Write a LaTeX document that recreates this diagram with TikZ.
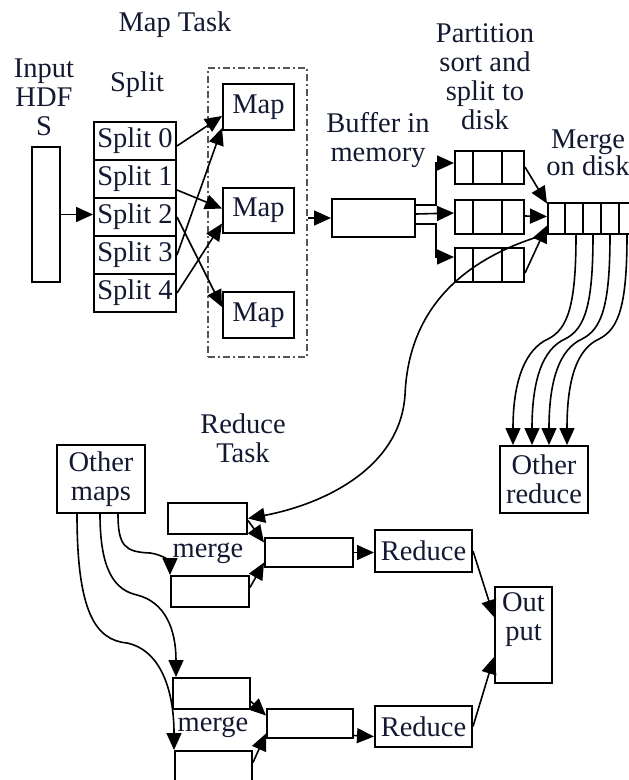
\documentclass[tikz,border=0pt]{standalone}
\usepackage{fontspec}
\setmainfont{Liberation Serif}
\usetikzlibrary{arrows.meta,calc}
\definecolor{txt}{RGB}{20,25,50}
\definecolor{frame}{RGB}{85,85,85}
\begin{document}
\begin{tikzpicture}[x=1pt,y=-1pt,
  every node/.style={font=\fontsize{28.5}{29}\selectfont, text=txt},
  box/.style={draw, line width=2pt, inner sep=0pt, align=center},
  lbl/.style={align=center, inner sep=0pt},
  arr/.style={line width=1.6pt, -{Triangle[length=17pt 0,width=15pt 0]}},
  divider/.style={line width=2pt},
]
\clip (0,0) rectangle (629,780);

% ---------- Map task ----------
\node[lbl] (maptask) at (175,25) {Map Task};
\node[lbl] (inplbl) at (44,97) {Input\\HDF\\S};
\node[box, minimum width=28pt, minimum height=135pt] (inp) at (46,214.5) {};
\node[lbl] (splitlbl) at (137,85) {Split};
\foreach \i/\y in {0/141,1/179,2/217,3/255,4/293}
  \node[box, minimum width=82pt, minimum height=38pt] (s\i) at (135,\y) {Split \i};

\node[draw=frame, line width=2pt, dash pattern=on 7pt off 3pt on 2pt off 3pt,
      minimum width=99pt, minimum height=289pt, inner sep=0pt] (mapgrp) at (257.5,212.5) {};
\node[box, minimum width=71pt, minimum height=46pt] (map1) at (258.5,107) {Map};
\node[box, minimum width=71pt, minimum height=45pt] (map2) at (258.5,210.5) {Map};
\node[box, minimum width=71pt, minimum height=46pt] (map3) at (258.5,315) {Map};

\node[lbl] (buflbl) at (378,140) {Buffer in\\memory};
\node[box, minimum width=83pt, minimum height=38pt] (buf) at (373.5,218) {};

\node[lbl] (partlbl) at (485,77) {Partition\\sort and\\split to\\disk};
\node[box, minimum width=69pt, minimum height=33pt] (p1) at (489.5,167) {};
\node[box, minimum width=69pt, minimum height=34pt] (p2) at (489.5,217) {};
\node[box, minimum width=69pt, minimum height=34pt] (p3) at (489.5,265) {};
\foreach \p in {p1,p2,p3} {
  \draw[divider] ($(\p.north west)+(19,0)$) -- ($(\p.south west)+(19,0)$);
  \draw[divider] ($(\p.north west)+(48,0)$) -- ($(\p.south west)+(48,0)$);
}

\node[lbl, font=\fontsize{28.5}{27}\selectfont] (mrglbl) at (588,153) {Merge\\on disk};
\node[box, minimum width=90pt, minimum height=31pt] (mrg) at (593,218.5) {};
\foreach \d in {18,36,54,72}
  \draw[divider] ($(mrg.north west)+(\d,0)$) -- ($(mrg.south west)+(\d,0)$);

\node[box, minimum width=88pt, minimum height=67pt] (ored) at (544,479.5) {Other\\reduce};

% ---------- Reduce task ----------
\node[lbl] (redlbl) at (243,438) {Reduce\\Task};
\node[box, minimum width=88pt, minimum height=68pt] (omaps) at (101,479) {Other\\maps};

\node[box, minimum width=79pt, minimum height=31pt] (r1a) at (207.5,518.5) {};
\node[box, minimum width=88pt, minimum height=29pt] (m1) at (309,552.5) {};
\node[box, minimum width=78pt, minimum height=31pt] (r1b) at (210,591.5) {};
\node[lbl] (merge1) at (208,553) {merge};
\node[box, minimum width=97pt, minimum height=42pt] (red1) at (423.5,551) {Reduce};

\node[box, minimum width=57pt, minimum height=96pt] (out) at (523.5,635) {};
\node[lbl, anchor=north] (outlbl) at ($(out.north)+(0,6)$) {Out\\put};

\node[box, minimum width=77pt, minimum height=31pt] (r2a) at (211.5,693.5) {};
\node[box, minimum width=86pt, minimum height=29pt] (m2) at (310,723.5) {};
\node[box, minimum width=77pt, minimum height=31pt] (r2b) at (213.5,766.5) {};
\node[lbl] (merge2) at (213,727) {merge};
\node[box, minimum width=97pt, minimum height=41pt] (red2) at (423.5,726.5) {Reduce};

% ---------- connectors: map side ----------
\draw[arr] (inp.east) -- (inp.east -| s2.west);
\draw[arr] ($(s0.east)+(0,5)$) -- ($(map1.west)+(0,9)$);
\draw[arr] (s3.east) -- ($(map1.south west)+(0,-3)$);
\draw[arr] ($(s1.east)+(0,11)$) -- ($(map2.west)+(0,-2)$);
\draw[arr] (s4.east) -- ($(map2.west)+(0,13)$);
\draw[arr] (s2.east) -- ($(map3.west)+(0,-8)$);
\draw[arr] (mapgrp.east |- buf.west) -- (buf.west);

\draw[arr] ($(buf.east)+(0,-13)$) -- ($(buf.east)+(20,-13)$) |- ($(p1.west)+(0,-4)$);
\draw[arr] ($(buf.east)+(0,-4)$) -- ($(p2.west)+(0,-4)$);
\draw[arr] ($(buf.east)+(0,6)$) -- ($(buf.east)+(20,6)$) |- ($(p3.west)+(0,-8)$);

\draw[arr] (p1.east) -- ($(mrg.west)+(0,-15)$);
\draw[arr] ($(p2.east)+(0,-1)$) -- ($(mrg.west)+(0,-2)$);
\draw[arr] ($(p3.east)+(0,8)$) -- ($(mrg.west)+(0,7)$);

\draw[arr] ($(mrg.south west)+(0,-1)$) .. controls (450,262) and (408,320) .. (405,395)
      .. controls (400,470) and (320,505) .. (r1a.east);

\foreach \k/\ex in {0/-31,1/-12,2/5,3/23}
  \draw[arr] ($(mrg.south west)+(29+17*\k,0)$) .. controls +(0,70) and +(20,-10) ..
        ($(mrg.south west)+(1+17*\k,104)$) .. controls +(-22,10) and +(0,-66) ..
        ($(ored.north)+(\ex,0)$);

% ---------- connectors: reduce side ----------
\draw[arr] ($(omaps.south)+(17,0)$) .. controls +(0,32) and +(-25,-1) .. (150,553)
      .. controls +(15,2) and +(0,-12) .. (r1b.north west);
\draw[arr] ($(omaps.south)+(-1,0)$) .. controls +(0,57) and +(-22,-5) .. (137,595)
      .. controls +(28,7) and +(0,-48) .. ($(r2a.north west)+(4,0)$);
\draw[arr] ($(omaps.south)+(-24,0)$) .. controls +(0,97) and +(-32,-3) .. (127,643)
      .. controls +(33,7) and +(0,-61) .. (r2b.north west);

\draw[arr] ($(r1a.east)+(0,2)$) -- ($(m1.west)+(0,-10)$);
\draw[arr] ($(r1b.east)+(0,-4)$) -- ($(m1.west)+(0,10)$);
\draw[arr] (m1.east) -- (m1.east -| red1.west);
\draw[arr] (red1.east) -- ($(out.west)+(0,-18)$);

\draw[arr] ($(r2a.east)+(0,8)$) -- ($(m2.west)+(0,-8)$);
\draw[arr] ($(r2b.east)+(0,-4)$) -- ($(m2.west)+(0,10)$);
\draw[arr] ($(m2.east)+(0,12)$) -- ($(red2.west)+(0,10)$);
\draw[arr] (red2.east) -- ($(out.west)+(0,22)$);
\end{tikzpicture}
\end{document}
